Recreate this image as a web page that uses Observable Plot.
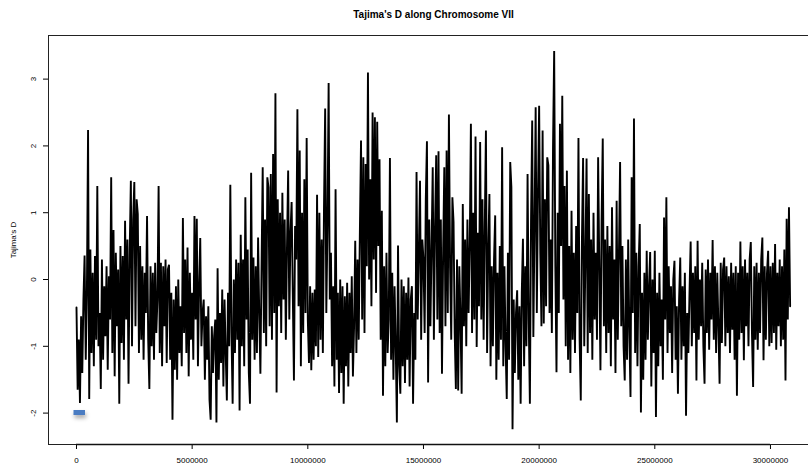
<!DOCTYPE html>
<html><head><meta charset="utf-8">
<script src="https://cdn.jsdelivr.net/npm/d3@7"></script>
<script src="https://cdn.jsdelivr.net/npm/@observablehq/plot@0.6"></script>
<style>
html,body{margin:0;padding:0;background:#fff;overflow:hidden;width:808px;height:466px}
#title{font:bold 10px "Liberation Sans",Arial,sans-serif;height:25px;line-height:30px;width:771px;margin-left:48px;text-align:center;color:#000;white-space:nowrap}
#chart svg{display:block}
</style></head><body>
<div id="title"></div>
<div id="chart"></div>
<script>
const chartTitle = "Tajima's D along Chromosome VII";
const yLabel = "Tajima's D";
const windowStep = 50000;
const tajimaD = [
-0.42,-1.65,-0.9,-1.85,-0.55,-1.4,-0.3,0.36,-1.2,-0.2,
2.24,-1.79,0.45,-1.1,0.1,-1.3,0.35,-0.9,1.40,-1.0,
-0.5,-1.64,0.3,-1.2,-0.1,-0.85,0.2,-1.35,0.05,-0.6,
1.53,-1.1,0.74,-1.45,0.4,-0.7,0.15,-1.86,0.5,-0.95,
0.35,-1.2,0.88,-0.6,0.6,-1.56,0.45,1.48,-1.0,0.9,
1.46,-0.7,1.2,0.98,-1.1,0.5,-0.9,0.2,-1.2,0.1,
-0.5,0.95,-0.9,-1.64,0.2,-1.0,0.1,-1.2,0.25,-0.8,
-0.3,1.40,-1.1,0.25,-1.3,0.2,-0.7,0.3,-1.25,0.15,
0.22,-1.2,-0.2,-2.10,-0.3,-1.35,-0.1,-1.5,0.0,-1.1,
-0.4,-1.3,0.92,-0.8,0.3,-1.1,0.48,-1.45,0.1,-0.9,
-0.2,-1.2,0.95,-0.6,0.91,-1.3,-0.1,0.62,-1.0,-0.5,
-0.3,-1.5,-0.55,-1.2,-0.4,-1.8,-2.10,-0.7,-1.4,-0.85,
-0.6,-2.14,0.17,-1.5,-0.5,-1.25,-0.15,-1.6,-0.3,-1.1,
-1.81,-0.2,-1.0,1.42,-0.8,-1.86,0.0,-1.1,0.3,-0.9,
0.25,-1.96,0.67,-1.0,0.3,-1.3,1.23,-0.6,0.45,-1.4,
-1.86,1.60,-0.9,0.33,-1.2,0.2,-1.1,0.63,-0.5,-1.41,
0.2,1.68,-0.8,0.9,-1.0,1.53,1.38,-0.7,1.58,-0.9,
1.88,-0.5,2.79,-1.69,1.2,-0.4,1.0,-0.8,1.3,-0.3,
0.9,-0.9,0.5,1.63,-0.6,0.7,1.16,-0.2,-1.51,0.8,
0.3,2.55,-0.4,1.93,-1.3,1.0,-0.8,1.5,-0.5,2.12,
-0.6,-1.25,-0.1,-1.36,-0.2,-1.2,-0.15,-1.0,1.27,-1.16,
1.0,-0.9,0.6,-1.1,1.1,2.56,-0.5,0.8,2.94,-0.3,
0.4,-1.3,-0.1,-1.6,1.35,-1.2,-0.2,-1.7,0.0,-1.4,
-0.1,-1.86,-0.25,-1.3,-0.05,-1.6,-0.2,-1.1,0.05,-1.45,
-0.7,0.58,-1.1,0.3,-0.9,0.7,2.08,-0.6,1.83,-0.8,
1.73,0.2,3.10,0.0,1.5,-0.4,2.5,0.3,2.43,-0.2,
2.36,0.5,1.8,-0.9,1.03,-1.74,0.2,-1.3,0.4,-1.1,
-0.6,1.82,-1.2,0.1,-1.5,-0.1,-1.0,-2.14,0.51,-1.3,
-1.71,0.0,-1.3,-0.1,-1.55,-0.2,-1.2,0.03,-1.6,-0.3,
-0.1,-1.86,-0.5,-1.2,1.61,-0.6,0.4,1.48,-0.9,0.6,
0.3,-0.8,1.2,2.07,-1.54,0.9,-0.7,0.5,1.68,-0.9,
0.8,1.86,-0.6,1.92,-0.8,0.9,-1.41,0.4,1.68,-0.7,
1.93,-0.5,2.47,0.2,-0.9,1.23,0.86,-0.8,-1.64,0.3,
-1.66,0.2,-0.6,-1.71,1.13,-0.7,0.6,-1.0,0.9,-0.5,
0.5,2.33,-0.8,1.0,-0.6,2.14,-1.01,0.7,-0.4,2.06,
-0.6,1.2,-0.9,0.8,2.23,-1.1,0.4,1.28,-1.3,0.2,
-1.0,0.3,0.96,-1.5,0.1,-1.2,0.5,-0.9,1.98,-1.3,
0.2,-1.0,-1.79,0.4,-1.2,1.76,1.38,-2.24,-0.3,-1.4,
-0.5,-0.16,-1.5,-0.4,-1.86,-0.2,0.61,-1.3,0.2,-1.0,
1.58,-0.6,-1.86,0.9,2.38,-0.86,0.8,2.58,-0.5,1.3,
2.6,0.4,-0.7,2.23,-0.66,1.2,-0.4,1.83,1.71,-0.5,
0.6,-0.8,1.98,3.42,0.2,-1.39,1.0,-0.5,2.33,0.5,
2.75,-0.3,1.4,-1.0,1.63,-1.2,0.5,-1.4,1.03,-0.9,
0.4,-1.1,0.8,-0.5,2.12,-0.9,-1.81,0.6,1.82,-1.0,
0.3,1.81,-1.1,1.28,-0.8,0.6,-1.2,1.0,-0.6,0.4,
-0.9,1.83,0.2,-1.36,0.9,2.11,-0.7,0.6,-1.1,0.8,
-0.8,0.5,-1.3,1.08,-0.6,0.3,-1.4,1.18,-0.9,0.4,
1.76,-0.7,0.5,-1.0,-1.51,0.3,-1.2,0.6,-0.8,-1.76,
1.53,-0.5,2.41,-1.1,0.4,-1.3,0.2,0.83,-1.99,-0.2,
-1.5,0.1,-1.2,0.43,-0.9,-0.1,0.41,-1.6,0.0,-1.1,
0.43,-2.06,-0.2,-1.3,0.1,-1.0,-0.3,-1.5,0.93,-0.6,
1.23,-1.1,0.2,-0.8,-0.1,-1.4,0.0,0.28,-1.2,-0.4,
-1.71,-0.3,0.33,-1.2,-0.1,-1.0,0.1,-2.04,-0.5,-1.1,
-0.2,0.57,-1.0,0.1,-0.8,0.2,-1.51,0.58,-0.9,0.0,
-0.7,0.25,-1.0,-1.56,0.15,-0.8,0.3,-1.05,0.1,-0.6,
0.59,-0.9,0.2,-1.1,0.1,-0.7,-1.56,0.25,-0.95,0.15,
0.33,-1.0,0.2,-0.8,0.05,-1.1,0.25,-0.75,0.1,-1.2,
0.2,-1.74,0.1,-0.9,0.57,-0.8,0.2,-1.21,0.3,-0.7,
0.1,-1.0,0.3,0.56,-0.8,-1.61,0.2,-0.9,0.25,-1.05,
0.1,-0.8,0.3,0.63,-1.21,0.2,-0.9,0.1,0.43,-1.0,
0.2,-0.95,0.25,-0.8,0.53,-1.05,0.1,-0.7,0.3,-1.0,
0.2,-0.9,0.45,-1.51,0.91,-0.6,1.08,-0.4
];
const xTicks = [0, 5000000, 10000000, 15000000, 20000000, 25000000, 30000000];
const yTicks = [-2, -1, 0, 1, 2, 3];
const xDomain = [-1210000, 32120000];
const yDomain = [-2.47, 3.653];
const marker = [{x1: -108000, x2: 389000, y1: -2.036, y2: -1.961}];

document.getElementById("title").textContent = chartTitle;
const data = tajimaD.map((d, i) => ({pos: i * windowStep, D: d}));

const plot = Plot.plot({
  width: 808, height: 441,
  marginLeft: 48, marginRight: -11, marginTop: 10, marginBottom: 22,
  style: {fontFamily: '"Liberation Sans", Arial, sans-serif', fontSize: "8px", background: "white", color: "black"},
  x: {domain: xDomain, ticks: xTicks, tickFormat: d => String(d), tickSize: 5, tickPadding: 8, label: null},
  y: {domain: yDomain, ticks: yTicks, tickFormat: d => String(d), tickSize: 5, tickPadding: 8, tickRotate: -90, label: yLabel, labelAnchor: "center", labelOffset: 38, labelArrow: "none"},
  marks: [
    Plot.frame({stroke: "#222", strokeWidth: 1}),
    Plot.ruleY([yDomain[0]], {x1: xTicks[0], x2: xTicks[xTicks.length - 1], stroke: "#111", strokeWidth: 1.4}),
    Plot.line(data, {x: "pos", y: "D", stroke: "black", strokeWidth: 1.9, strokeLinejoin: "miter", strokeMiterlimit: 2}),
    Plot.rect(marker, {x1: "x1", x2: "x2", y1: "y1", y2: "y2", fill: "#4a7cc2"})
  ]
});
document.getElementById("chart").appendChild(plot);
d3.select(plot).selectAll("rect").filter(function(){ return this.getAttribute("fill") === "#4a7cc2" || (this.parentNode && this.parentNode.getAttribute("fill") === "#4a7cc2"); })
  .style("filter", "drop-shadow(1px 3px 2px rgba(0,0,0,0.35))");
</script>
</body></html>
